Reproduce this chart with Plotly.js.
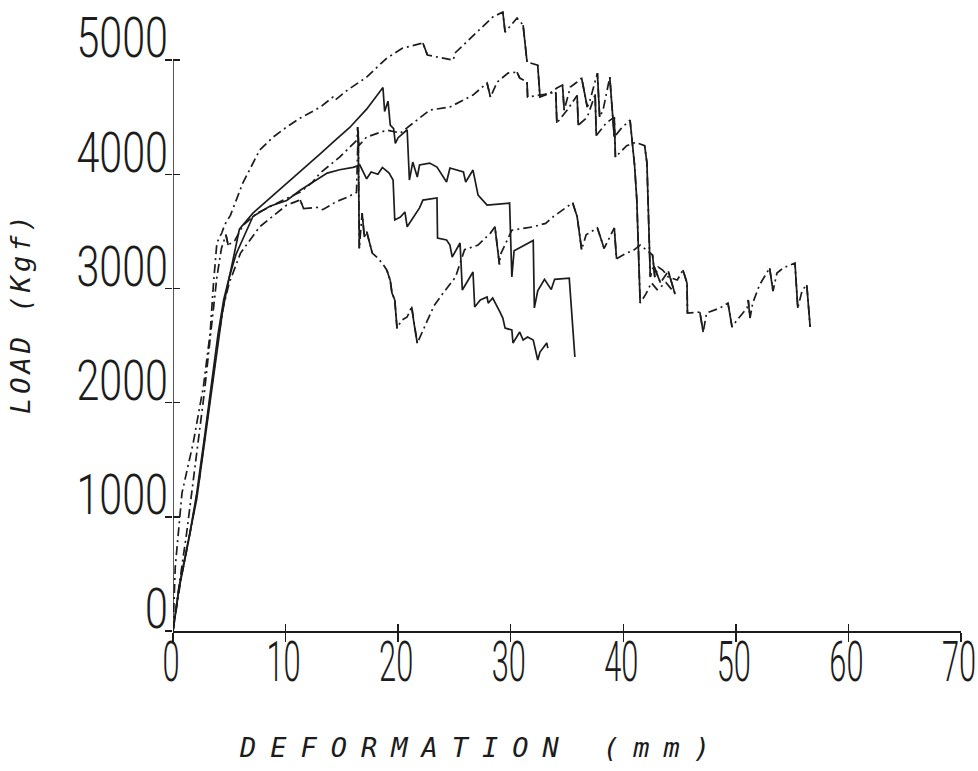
<!DOCTYPE html>
<html>
<head>
<meta charset="utf-8">
<script src="https://cdn.plot.ly/plotly-3.0.1.min.js"></script>
<style>
  html, body { margin: 0; padding: 0; background: #fff; }
  #chart { width: 978px; height: 771px; }
</style>
</head>
<body>
<div id="chart"></div>
<script>
// ---- data (deformation in mm, load in kgf) ----
const xTicks = [0, 10, 20, 30, 40, 50, 60, 70];
const yTicks = [0, 1000, 2000, 3000, 4000, 5000];

const defA = [0,0.2,0.8,1.8,2.7,3.3,3.6,3.9,4.35,4.6,5.1,6.2,7.7,8.9,10.1,11.3,13.1,14.2,14.4,15.5,17.2,19.0,20.4,22.2,22.6,23.45,24.9,25.05,27.0,28.4,29.3,29.5,30.56,31.1,31.45,32.4,32.6,33.5,34.1,34.6,34.75,35.3,35.9,36.3,36.8,37.0,37.7,37.9,38.2,38.8,39.2,39.8,40.6,41.0,41.2,41.5,42.0,42.5,43.0,43.8,44.4];
const loadA = [0,560,1210,1650,2140,2610,3050,3400,3490,3560,3640,3923,4212,4326,4414,4492,4589,4676,4650,4737,4851,5018,5105,5149,5044,5026,5000,5062,5245,5377,5421,5245,5368,5307,4983,4956,4676,4711,4755,4781,4562,4764,4808,4843,4589,4633,4886,4501,4560,4851,4326,4400,4475,4081,3780,2872,2950,3050,2990,3050,2980];

const defB = [0,0.6,1.5,2.1,2.7,3.3,3.9,4.4,4.8,5.2,5.9,7.1,8.5,9.8,11.0,12.2,13.2,14.2,15.7,17.2,18.65,18.8,19.1,19.3,19.6,19.75,20.0,20.8,21.0,21.3,21.7,21.9,22.8,23.45,24.3,24.6,25.8,26.0,26.65,27.1,27.9,29.9,30.1,30.3,31.5,32.0,32.1,32.4,33.0,33.6,33.9,35.2,35.7];
const loadB = [0,420,860,1150,1580,2020,2460,2800,3000,3200,3520,3660,3780,3890,4000,4100,4190,4280,4410,4570,4760,4550,4640,4430,4400,4270,4320,4390,3950,4107,3976,4081,4098,4063,3932,4055,4020,3932,4037,3818,3730,3748,3100,3330,3390,3420,2830,2980,3080,2990,3080,3090,2400];

const defC = [0,0.4,1.2,2.0,2.8,3.4,3.9,4.3,4.7,4.9,5.5,6.2,7.46,9.8,11.3,12.4,13.06,14.8,15.45,16.35,16.4,16.5,17.2,19.0,20.2,22.8,24.6,26.65,27.9,28.2,28.8,29.76,30.56,30.8,31.45,31.5,33.0,34.0,34.1,35.0,35.9,36.0,36.8,37.5,37.6,38.5,39.2,39.3,40.3,41.1,41.9,42.1,42.4,42.7,43.3,44.0,44.6];
const loadC = [0,300,850,1450,2100,2650,3100,3350,3470,3380,3420,3550,3660,3774,3844,3932,4010,4150,4212,4300,4414,4250,4326,4387,4361,4562,4589,4694,4799,4676,4808,4886,4895,4843,4808,4676,4700,4720,4450,4560,4690,4430,4500,4700,4340,4450,4500,4150,4250,4280,4250,4100,3100,3200,3050,3150,2950];

const defD = [0,0.5,1.4,2.1,2.8,3.4,4.0,4.5,5.0,5.6,7.1,8.6,10.1,11.3,12.7,13.7,14.8,16.0,16.6,17.2,17.6,18.2,18.6,19.2,19.55,19.7,20.2,20.6,20.8,21.9,22.2,23.45,23.5,24.3,24.6,24.8,25.5,25.7,26.65,26.8,27.3,27.9,28.0,28.4,29.05,29.3,29.5,30.1,30.2,30.8,31.1,31.5,32.0,32.4,32.6,33.2,33.3];
const loadD = [0,350,800,1200,1700,2150,2600,2900,3100,3300,3630,3720,3770,3860,3950,4010,4040,4060,4080,3960,4020,4000,4060,4010,3950,3600,3625,3670,3540,3705,3774,3792,3441,3424,3380,3275,3398,2986,3144,2837,2899,2925,2872,2916,2793,2741,2653,2636,2522,2618,2548,2575,2548,2373,2443,2522,2478];

const defE = [0,0.7,1.6,2.3,2.9,3.5,4.0,4.5,5.0,5.5,6.0,7.7,9.2,10.1,11.3,11.6,12.8,13.3,14.5,15.5,16.3,16.45,16.55,16.8,17.0,17.2,17.7,18.1,18.6,19.0,19.3,19.45,19.7,19.9,20.3,20.8,21.2,21.4,21.7,22.6,23.2,24.0,25.1,25.6,25.9,27.1,28.2,28.6,29.0,29.1,30.1,32.0,33.1,33.8,34.6,35.5,35.9,36.3,36.7,37.7,38.3,39.2,39.4,40.1,41.0,41.5,42.6,42.8,43.1,43.5,44.0,44.8,45.3,45.66,45.7,46.8,47.1,47.4,48.6,49.3,49.66,50.1,51.0,51.1,51.26,51.5,52.1,53.0,53.3,53.65,54.2,55.25,55.5,55.9,56.3,56.6];
const loadE = [0,450,900,1300,1750,2200,2550,2850,3050,3180,3310,3540,3660,3730,3775,3700,3710,3690,3760,3800,3840,4380,3350,3660,3450,3500,3310,3275,3220,3160,3070,2960,2900,2650,2720,2750,2840,2700,2520,2720,2850,2960,3100,3250,3340,3380,3485,3540,3210,3300,3510,3540,3570,3630,3690,3750,3630,3340,3470,3530,3350,3530,3260,3300,3340,3380,3293,3100,3188,3161,3100,3074,3161,3047,2785,2793,2618,2785,2829,2872,2662,2723,2829,2899,2741,2872,3030,3179,2977,3135,3179,3223,2829,2986,3030,2662];

const xTitle = 'DEFORMATION (mm)';
const yTitle = 'LOAD (Kgf)';

// ---- styling ----
const INK = '#1c1c1c';
const LW = 1.7;
const DASHDOT = '9px,4px,2px,4px';
const TICKFONT = {family: "Roboto, 'Liberation Sans', sans-serif", size: 55, color: INK, weight: 300};
const TITLEFONT = {family: "'DejaVu Sans Mono', monospace", size: 27, color: INK, style: 'italic'};
const NARROW_X = 0.56, NARROW_Y = 0.75;   // horizontal squeeze of the tick numerals

// steep load drops of the dash-dot records are drawn solid, as in the source plot
function drops(xs, ys) {
  const ox = [], oy = [];
  for (let i = 0; i + 1 < xs.length; i++) {
    const dx = xs[i + 1] - xs[i], dy = ys[i + 1] - ys[i];
    if (dy < 0 && -dy > 200 * Math.max(dx, 1e-6)) {
      ox.push(xs[i], xs[i + 1], null);
      oy.push(ys[i], ys[i + 1], null);
    }
  }
  return {x: ox, y: oy};
}

function curve(xs, ys, dashed) {
  const out = [{
    x: xs, y: ys, type: 'scatter', mode: 'lines', hoverinfo: 'skip', showlegend: false,
    line: {color: INK, width: LW, dash: dashed ? DASHDOT : 'solid', shape: 'linear'}
  }];
  if (dashed) {
    const d = drops(xs, ys);
    out.push({x: d.x, y: d.y, type: 'scatter', mode: 'lines', hoverinfo: 'skip', showlegend: false,
      connectgaps: false, line: {color: INK, width: LW}});
  }
  return out;
}

const traces = [].concat(
  curve(defA, loadA, true),
  curve(defB, loadB, false),
  curve(defC, loadC, true),
  curve(defD, loadD, false),
  curve(defE, loadE, true),
  [{x: [null], y: [null], xaxis: 'x2', yaxis: 'y', type: 'scatter', mode: 'lines', hoverinfo: 'skip', showlegend: false},
   {x: [null], y: [null], xaxis: 'x', yaxis: 'y2', type: 'scatter', mode: 'lines', hoverinfo: 'skip', showlegend: false}]
);

const yTop = 5500;
const layout = {
  width: 978, height: 771,
  margin: {l: 173, r: 17, t: 3, b: 140, pad: 0},
  paper_bgcolor: '#fff', plot_bgcolor: '#fff',
  showlegend: false,
  xaxis: {
    range: [xTicks[0], xTicks[xTicks.length - 1]], tickmode: 'array', tickvals: xTicks,
    ticktext: xTicks.map(String),
    ticks: 'outside', ticklen: 9, tickwidth: 1.5, tickcolor: INK,
    showline: true, linecolor: INK, linewidth: 1.5,
    showgrid: false, zeroline: false, tickfont: TICKFONT, fixedrange: true,
    ticklabeloverflow: 'allow', ticklabelstandoff: -26, ticklabelshift: -2
  },
  xaxis2: {
    overlaying: 'x', anchor: 'y', side: 'bottom',
    range: [xTicks[0], xTicks[xTicks.length - 1]], tickmode: 'array', tickvals: xTicks,
    ticks: 'inside', ticklen: 7, tickwidth: 1.5, tickcolor: INK,
    showticklabels: false, showline: false, showgrid: false, zeroline: false, fixedrange: true
  },
  yaxis: {
    range: [0, yTop], tickmode: 'array', tickvals: yTicks, ticktext: yTicks.map(String),
    ticks: 'outside', ticklen: 7, tickwidth: 1.5, tickcolor: INK,
    showline: false, showgrid: false, zeroline: false,
    tickfont: TICKFONT, ticklabelshift: -22, ticklabelstandoff: -14, fixedrange: true,
    ticklabeloverflow: 'allow'
  },
  yaxis2: {
    overlaying: 'y', anchor: 'x', side: 'left',
    range: [0, yTop], tickmode: 'array', tickvals: yTicks,
    ticks: 'inside', ticklen: 7, tickwidth: 1.5, tickcolor: INK,
    showticklabels: false, showline: false, showgrid: false, zeroline: false, fixedrange: true
  },
  shapes: [{
    type: 'line', xref: 'x', yref: 'y', layer: 'above',
    x0: xTicks[0], x1: xTicks[0], y0: yTicks[0], y1: yTicks[yTicks.length - 1],
    line: {color: INK, width: 1.5}
  }],
  annotations: [
    {text: xTitle, xref: 'paper', yref: 'paper', x: 0.392, y: -0.186, xanchor: 'center', yanchor: 'middle',
     showarrow: false, font: TITLEFONT},
    {text: yTitle, xref: 'paper', yref: 'paper', x: -0.193, y: 0.508, xanchor: 'center', yanchor: 'middle',
     textangle: -90, showarrow: false, font: TITLEFONT}
  ]
};

Plotly.newPlot('chart', traces, layout, {displayModeBar: false, staticPlot: true}).then(function () {
  // condensed plotter-style numerals: squeeze each label horizontally about its anchor point
  function squeeze(sel, f) {
    document.querySelectorAll(sel).forEach(function (t) {
      const ax = parseFloat(t.getAttribute('x') || '0') || 0;
      const tr = t.getAttribute('transform') || '';
      t.setAttribute('transform', (tr + ' translate(' + ax + ',0) scale(' + f + ',1) translate(' + (-ax) + ',0)').trim());
    });
  }
  squeeze('.xtick text', NARROW_X);
  squeeze('.ytick text', NARROW_Y);
  const ann = document.querySelectorAll('.annotation-text');
  if (ann[0]) ann[0].setAttribute('letter-spacing', '14px');
  if (ann[1]) ann[1].setAttribute('letter-spacing', '4px');
});
</script>
</body>
</html>
